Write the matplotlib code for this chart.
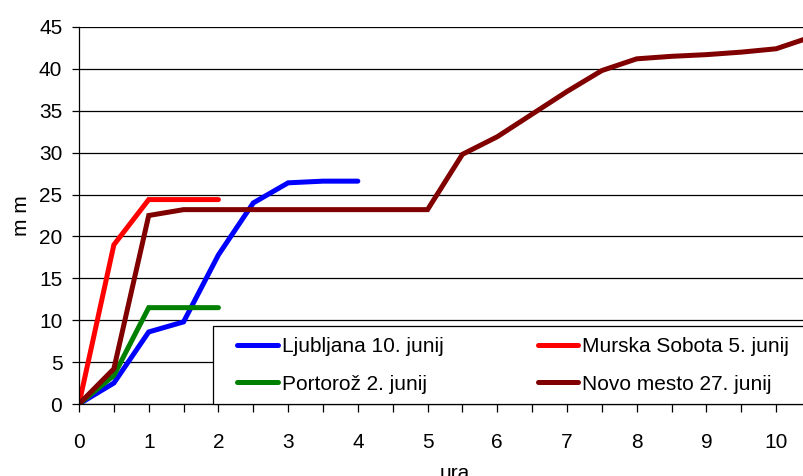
import matplotlib.pyplot as plt
from matplotlib.patches import Rectangle
from matplotlib.ticker import MultipleLocator

plt.rcParams['font.family'] = ['Liberation Sans', 'DejaVu Sans']

# hours since start of rain
ura = [0, 0.5, 1, 1.5, 2, 2.5, 3, 3.5, 4, 4.5, 5, 5.5, 6, 6.5, 7, 7.5,
       8, 8.5, 9, 9.5, 10, 10.5]

ljubljana = [0, 2.5, 8.6, 9.8, 17.8, 24.0, 26.4, 26.6, 26.6]
murska_sobota = [0, 19.0, 24.4, 24.4, 24.4]
portoroz = [0, 3.4, 11.5, 11.5, 11.5]
novo_mesto = [0, 4.2, 22.5, 23.2, 23.2, 23.2, 23.2, 23.2, 23.2, 23.2, 23.2,
              29.8, 31.9, 34.6, 37.3, 39.8, 41.2, 41.5, 41.7, 42.0, 42.4, 43.8]

series = [
    ('Ljubljana 10. junij', ljubljana, '#0000FF'),
    ('Murska Sobota 5. junij', murska_sobota, '#FF0000'),
    ('Portorož 2. junij', portoroz, '#008000'),
    ('Novo mesto 27. junij', novo_mesto, '#800000'),
]

fig = plt.figure(figsize=(8.04, 4.76), dpi=100)
ax = fig.add_axes([79 / 804, 1 - 404 / 476, 1 - 79 / 804, (404 - 27) / 476])

for label, vals, col in series:
    ax.plot(ura[:len(vals)], vals, color=col, lw=3.6, label=label,
            solid_capstyle='round', solid_joinstyle='miter')

ax.set_xlim(0, 10.4)
ax.set_ylim(0, 45)
ax.yaxis.set_major_locator(MultipleLocator(5))
ax.xaxis.set_major_locator(MultipleLocator(1))
ax.xaxis.set_minor_locator(MultipleLocator(0.5))
ax.grid(axis='y', color='black', lw=0.9)
ax.set_axisbelow(True)

for s in ['top', 'right']:
    ax.spines[s].set_visible(False)
for s in ['left', 'bottom']:
    ax.spines[s].set_color('black')
    ax.spines[s].set_linewidth(0.9)

ax.tick_params(axis='y', which='major', length=5, width=0.9, pad=7, labelsize=15)
ax.tick_params(axis='x', which='both', length=6, width=0.9, pad=15, labelsize=15)

ax.set_ylabel('m m', fontsize=15)
ax.yaxis.set_label_coords(-0.066, 0.5)
ax.set_xlabel('ura', fontsize=15)
ax.xaxis.set_label_coords((455 - 79) / 725, -0.16)

# legend box runs past the right edge, as in the original
ax.add_patch(Rectangle((213 / 804, 72 / 476), 0.8, (404 - 326) / 476,
                       transform=fig.transFigure, facecolor='white',
                       edgecolor='black', lw=0.9, zorder=4.5, clip_on=False))

handles, labels = ax.get_legend_handles_labels()
order = [0, 2, 1, 3]
leg = ax.legend([handles[i] for i in order], [labels[i] for i in order],
                ncol=2, loc='lower left',
                bbox_to_anchor=(227 / 804, 72 / 476), bbox_transform=fig.transFigure,
                borderaxespad=0, fontsize=15, frameon=False,
                handlelength=1.95, handletextpad=0.2, columnspacing=4.5,
                labelspacing=0.9, borderpad=0.5)
leg.set_zorder(5)

fig.savefig('out.png', dpi=100)
